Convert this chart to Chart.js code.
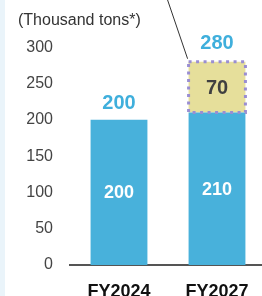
<!DOCTYPE html>
<html>
<head>
<meta charset="utf-8">
<script src="https://cdn.jsdelivr.net/npm/chart.js@4/dist/chart.umd.min.js"></script>
<style>
  html, body { margin: 0; padding: 0; background: #fff; overflow: hidden; }
  #wrap { width: 262px; height: 296px; position: relative; overflow: hidden; }
</style>
</head>
<body>
<div id="wrap"><canvas id="chart" width="266" height="296"></canvas></div>
<script>
// chart data
const categories = ['FY2024', 'FY2027'];
const baseValues = [200, 210];
const addedValues = [null, 70];
const yTicks = [0, 50, 100, 150, 200, 250, 300];
const unitLabel = '(Thousand tons*)';

const blue = '#48b1db';
const yellow = '#e6df9b';

// white background plus the thin pale strip on the left
const backgroundPlugin = {
    id: 'background',
    beforeDraw(chart) {
        const ctx = chart.ctx;
        ctx.save();
        ctx.fillStyle = '#ffffff';
        ctx.fillRect(0, 0, chart.width, chart.height);
        ctx.fillStyle = '#eaf4fa';
        ctx.fillRect(0, 0, 5, chart.height);
        ctx.restore();
    }
};

// dotted frame round the added part, callout line and the value labels
const labelPlugin = {
    id: 'labels',
    afterDatasetsDraw(chart) {
        const ctx = chart.ctx;
        const baseMeta = chart.getDatasetMeta(0);
        const addMeta = chart.getDatasetMeta(1);
        ctx.save();

        addMeta.data.forEach((bar, i) => {
            if (addedValues[i] == null) return;
            const left = bar.x - bar.width / 2;
            const right = bar.x + bar.width / 2;
            ctx.strokeStyle = '#9a8ed2';
            ctx.lineWidth = 3;
            ctx.setLineDash([3, 4.5]);
            ctx.strokeRect(left, bar.y, right - left, bar.base - bar.y);
            ctx.setLineDash([]);

            // callout line to the top left corner
            ctx.strokeStyle = '#333';
            ctx.lineWidth = 1;
            ctx.beginPath();
            ctx.moveTo(left - 21, 0);
            ctx.lineTo(left - 1, bar.y - 3);
            ctx.stroke();
        });

        ctx.textAlign = 'center';
        ctx.textBaseline = 'middle';

        baseMeta.data.forEach((bar, i) => {
            ctx.fillStyle = '#ffffff';
            ctx.font = 'bold 18px "Liberation Sans", Arial, sans-serif';
            ctx.fillText(String(baseValues[i]), bar.x, (bar.y + bar.base) / 2 + 1);

            let top = bar.y;
            let total = baseValues[i];
            let gap = 16;
            if (addedValues[i] != null) {
                const add = addMeta.data[i];
                ctx.fillStyle = '#404040';
                ctx.font = 'bold 20px "Liberation Sans", Arial, sans-serif';
                ctx.fillText(String(addedValues[i]), add.x, (add.y + add.base) / 2 + 1);
                top = add.y;
                total += addedValues[i];
                gap = 18;
            }
            ctx.fillStyle = '#3fafdc';
            ctx.font = 'bold 20px "Liberation Sans", Arial, sans-serif';
            ctx.fillText(String(total), bar.x, top - gap);
        });
        ctx.restore();
    }
};

const ctx = document.getElementById('chart').getContext('2d');
const myChart = new Chart(ctx, {
    type: 'bar',
    data: {
        labels: categories,
        datasets: [{
            label: 'base',
            data: baseValues,
            backgroundColor: blue,
            borderWidth: 0
        }, {
            label: 'added',
            data: addedValues,
            backgroundColor: yellow,
            borderWidth: 0
        }]
    },
    options: {
        responsive: false,
        animation: false,
        events: [],
        layout: { padding: { left: 18, right: 0, top: 0, bottom: 0 } },
        datasets: {
            bar: { categoryPercentage: 1, barPercentage: 0.58 }
        },
        plugins: {
            legend: { display: false },
            tooltip: { enabled: false },
            title: {
                display: true,
                text: unitLabel,
                align: 'start',
                color: '#333',
                font: { family: '"Liberation Sans", Arial, sans-serif', size: 16, weight: 'normal', lineHeight: 1.2 },
                padding: { top: 11, bottom: 17 }
            }
        },
        scales: {
            x: {
                stacked: true,
                grid: { display: false },
                border: { display: true, color: '#555', width: 2 },
                ticks: {
                    color: '#111',
                    padding: 8,
                    font: { family: '"Liberation Sans", Arial, sans-serif', size: 18, weight: 'bold' }
                },
                afterFit(scale) { scale.height = 31; }
            },
            y: {
                stacked: true,
                min: 0,
                max: 300,
                grid: { display: false },
                border: { display: false },
                afterBuildTicks(scale) { scale.ticks = yTicks.map(v => ({ value: v })); },
                ticks: {
                    color: '#444',
                    padding: 9,
                    font: { family: '"Liberation Sans", Arial, sans-serif', size: 16 }
                },
                afterFit(scale) { scale.width = 52; }
            }
        }
    },
    plugins: [backgroundPlugin, labelPlugin]
});
</script>
</body>
</html>
